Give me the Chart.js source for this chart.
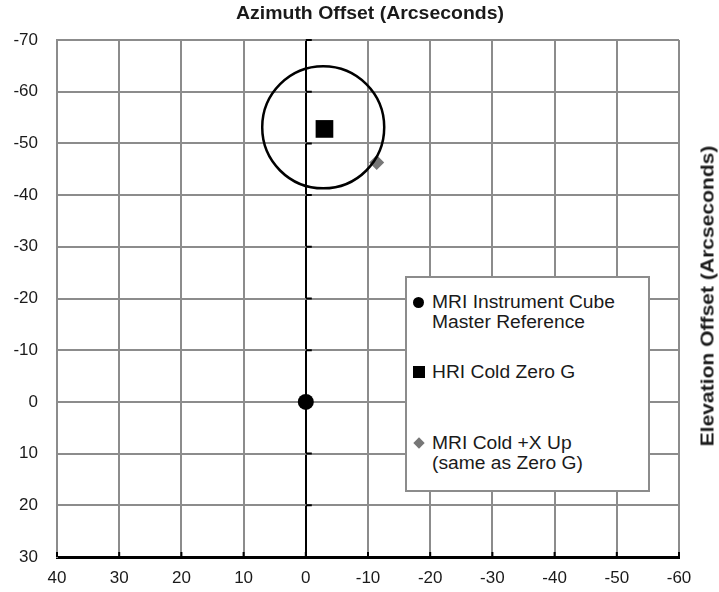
<!DOCTYPE html>
<html>
<head>
<meta charset="utf-8">
<script src="https://cdn.jsdelivr.net/npm/chart.js@4"></script>
<style>
  html, body { margin: 0; padding: 0; background: #fff; }
  #wrap { position: relative; width: 719px; height: 592px; font-family: "Liberation Sans", Arial, sans-serif; color: #1a1a1a; }
  #chart { position: absolute; left: 0; top: 0; }
  #title { position: absolute; left: 370px; top: 3px; transform: translateX(-50%) scaleX(1.08); white-space: nowrap; font-weight: bold; font-size: 18px; }
  #ylab { position: absolute; left: 708px; top: 296px; transform: translate(-50%, -50%) rotate(-90deg) scaleX(1.17); white-space: nowrap; font-weight: bold; font-size: 18px; }
  #legend { position: absolute; left: 405px; top: 276px; width: 241px; height: 212px; border: 2px solid #8c8c8c; background: #fff; }
  .item { position: absolute; left: 25px; font-size: 17.5px; line-height: 20px; white-space: pre-line; }
  .txt { display: inline-block; transform: scaleX(1.1); transform-origin: 0 50%; }
  .mk { position: absolute; left: -19px; top: 5px; width: 11px; height: 11px; }
</style>
</head>
<body>
<div id="wrap">
  <canvas id="chart" width="719" height="592"></canvas>
  <div id="title">Azimuth Offset (Arcseconds)</div>
  <div id="ylab">Elevation Offset (Arcseconds)</div>
  <div id="legend"></div>
</div>
<script>
// ============================================================
// Data (azimuth, elevation in arcseconds)
// ============================================================

const xTicks = [40, 30, 20, 10, 0, -10, -20, -30, -40, -50, -60];
const yTicks = [-70, -60, -50, -40, -30, -20, -10, 0, 10, 20, 30];

const cubeRef = [{ x: 0, y: 0 }];
const hriColdZeroG = [{ x: -3, y: -52.8 }];
const mriColdXUp = [{ x: -11.4, y: -46.3 }];
const toleranceCircle = [{ x: -2.8, y: -53.1 }];

const labels = [
  'MRI Instrument Cube\nMaster Reference',
  'HRI Cold Zero G',
  'MRI Cold +X Up\n(same as Zero G)'
];

// ============================================================
// Chart
// ============================================================

const gridGrey = '#8c8c8c';
const tickFont = { family: 'Liberation Sans', size: 17 };

// dark tick marks: up from the bottom axis, right of the zero line
const axisMarks = {
  id: 'axisMarks',
  afterDatasetsDraw(chart) {
    const { ctx, scales: { x, y } } = chart;
    const x0 = x.getPixelForValue(0);
    ctx.save();
    ctx.strokeStyle = '#000';
    ctx.lineWidth = 2;
    ctx.beginPath();
    xTicks.forEach(v => {
      const px = x.getPixelForValue(v);
      ctx.moveTo(px, y.bottom);
      ctx.lineTo(px, y.bottom - 5);
    });
    yTicks.forEach(v => {
      const py = y.getPixelForValue(v);
      ctx.moveTo(x0, py);
      ctx.lineTo(x0 + 6, py);
    });
    ctx.stroke();
    ctx.restore();
  }
};

const chart = new Chart(document.getElementById('chart'), {
  type: 'scatter',
  data: {
    datasets: [
      { label: 'circle', data: toleranceCircle, pointStyle: 'circle', pointRadius: 61,
        backgroundColor: 'transparent', borderColor: '#000', borderWidth: 2.5 },
      { label: labels[0], data: cubeRef, pointStyle: 'circle', pointRadius: 8,
        backgroundColor: '#000', borderColor: '#000', borderWidth: 0 },
      { label: labels[1], data: hriColdZeroG, pointStyle: 'rect', pointRadius: 12.5,
        backgroundColor: '#000', borderColor: '#000', borderWidth: 0 },
      { label: labels[2], data: mriColdXUp, pointStyle: 'rectRot', pointRadius: 7.5,
        backgroundColor: '#777', borderColor: '#777', borderWidth: 0 }
    ]
  },
  options: {
    responsive: false,
    animation: false,
    events: [],
    // the big circle marker would otherwise push the plot area inwards
    layout: { autoPadding: false, padding: { top: 40, right: 40 } },
    plugins: { legend: { display: false }, tooltip: { enabled: false } },
    scales: {
      x: {
        type: 'linear', reverse: true, min: -60, max: 40,
        afterBuildTicks: s => { s.ticks = xTicks.map(v => ({ value: v })); },
        afterFit: s => { s.height = 35; },
        grid: {
          color: c => c.tick && c.tick.value === 0 ? '#000' : gridGrey,
          lineWidth: 2,
          drawTicks: false
        },
        border: { color: '#000', width: 3 },
        ticks: { color: '#1a1a1a', font: tickFont, padding: 11, maxRotation: 0 }
      },
      y: {
        type: 'linear', reverse: true, min: -70, max: 30,
        afterBuildTicks: s => { s.ticks = yTicks.map(v => ({ value: v })); },
        afterFit: s => { s.width = 57; },
        grid: { color: gridGrey, lineWidth: 2, drawTicks: false },
        border: { color: gridGrey, width: 2 },
        ticks: { color: '#1a1a1a', font: tickFont, padding: 19 }
      }
    }
  },
  plugins: [axisMarks]
});

// legend inside the plot, built from the datasets
const legendBox = document.getElementById('legend');
const itemTops = [14, 84, 155];
const markerCss = [
  'background:#000;border-radius:50%;',
  'background:#000;width:12px;height:12px;top:4px;',
  'background:#777;width:8px;height:8px;top:6px;left:-17px;transform:rotate(45deg);'
];
chart.data.datasets.slice(1).forEach((ds, i) => {
  const item = document.createElement('div');
  item.className = 'item';
  item.style.top = itemTops[i] + 'px';
  const txt = document.createElement('span');
  txt.className = 'txt';
  txt.textContent = ds.label;
  const mk = document.createElement('span');
  mk.className = 'mk';
  mk.style.cssText += markerCss[i];
  item.appendChild(mk);
  item.appendChild(txt);
  legendBox.appendChild(item);
});
</script>
</body>
</html>
